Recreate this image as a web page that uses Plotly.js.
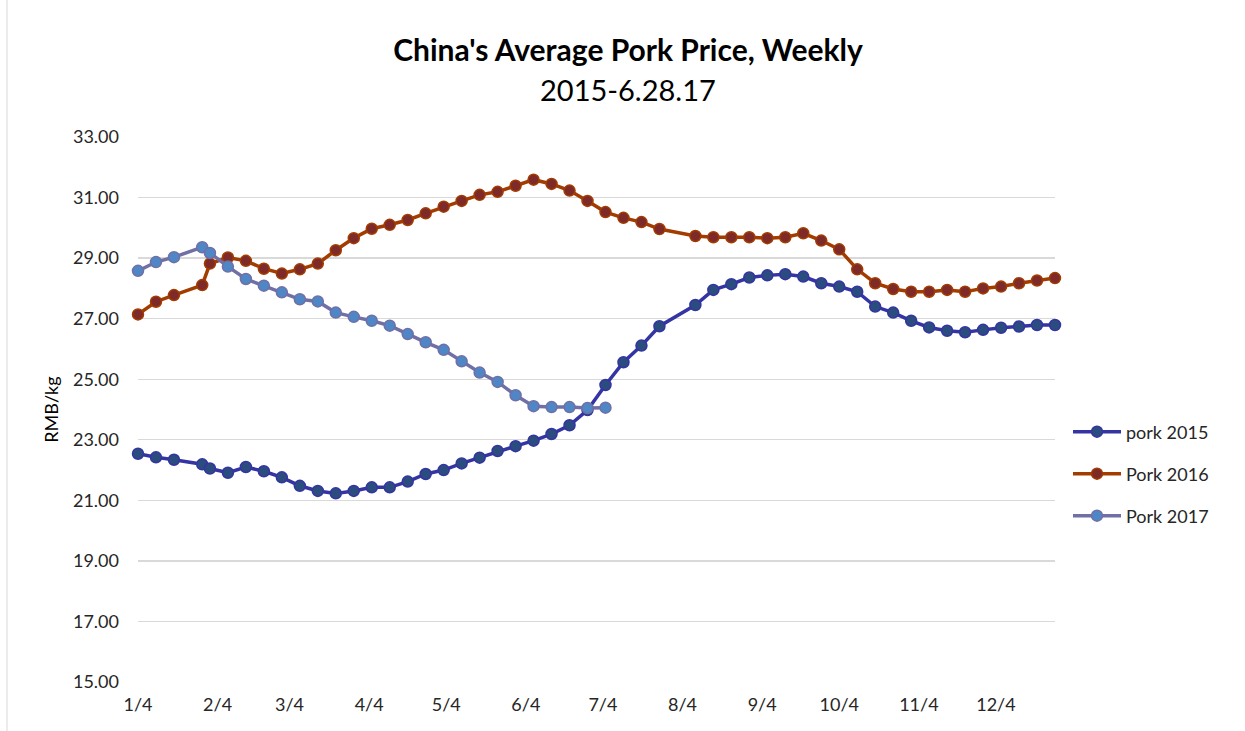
<!DOCTYPE html>
<html>
<head>
<meta charset="utf-8">
<script src="https://cdn.plot.ly/plotly-3.0.1.min.js"></script>
<style>
  html, body { margin: 0; padding: 0; background: #ffffff; }
  #chart { width: 1245px; height: 731px; }
</style>
</head>
<body>
<div id="chart"></div>
<script>
// Weekly observation dates (shared category dates of the Excel date axis)
var weekDates = [
  "2015-01-04", "2015-01-11", "2015-01-18", "2015-01-29", "2015-02-01",
  "2015-02-08", "2015-02-15", "2015-02-22", "2015-03-01", "2015-03-08",
  "2015-03-15", "2015-03-22", "2015-03-29", "2015-04-05", "2015-04-12",
  "2015-04-19", "2015-04-26", "2015-05-03", "2015-05-10", "2015-05-17",
  "2015-05-24", "2015-05-31", "2015-06-07", "2015-06-14", "2015-06-21",
  "2015-06-28", "2015-07-05", "2015-07-12", "2015-07-19", "2015-07-26",
  "2015-08-09", "2015-08-16", "2015-08-23", "2015-08-30", "2015-09-06",
  "2015-09-13", "2015-09-20", "2015-09-27", "2015-10-04", "2015-10-11",
  "2015-10-18", "2015-10-25", "2015-11-01", "2015-11-08", "2015-11-15",
  "2015-11-22", "2015-11-29", "2015-12-06", "2015-12-13", "2015-12-20",
  "2015-12-27"
];

var pork2015 = [
  22.54, 22.42, 22.34, 22.19, 22.05, 21.91, 22.10, 21.96, 21.76, 21.48,
  21.31, 21.23, 21.31, 21.43, 21.43, 21.62, 21.87, 22.00, 22.22, 22.41,
  22.63, 22.79, 22.97, 23.19, 23.48, 23.98, 24.81, 25.56, 26.11, 26.75,
  27.45, 27.95, 28.14, 28.36, 28.43, 28.47, 28.39, 28.17, 28.06, 27.89,
  27.40, 27.20, 26.93, 26.71, 26.60, 26.55, 26.63, 26.70, 26.74, 26.79,
  26.79
];

var pork2016 = [
  27.14, 27.56, 27.78, 28.11, 28.82, 29.02, 28.91, 28.65, 28.49, 28.63,
  28.82, 29.26, 29.66, 29.97, 30.10, 30.26, 30.48, 30.70, 30.89, 31.09,
  31.19, 31.39, 31.59, 31.45, 31.23, 30.89, 30.52, 30.33, 30.19, 29.96,
  29.73, 29.69, 29.69, 29.69, 29.66, 29.69, 29.82, 29.58, 29.29, 28.63,
  28.17, 27.98, 27.89, 27.89, 27.95, 27.89, 28.00, 28.06, 28.17, 28.26,
  28.34
];

var pork2017 = [
  28.58, 28.87, 29.03, 29.36, 29.17, 28.72, 28.31, 28.09, 27.87, 27.64,
  27.57, 27.20, 27.06, 26.93, 26.77, 26.49, 26.22, 25.97, 25.59, 25.22,
  24.91, 24.47, 24.11, 24.08, 24.08, 24.05, 24.06
];

var seriesNames = ["pork 2015", "Pork 2016", "Pork 2017"];

var xTickVals = [
  "2015-01-04", "2015-02-04", "2015-03-04", "2015-04-04", "2015-05-04", "2015-06-04",
  "2015-07-04", "2015-08-04", "2015-09-04", "2015-10-04", "2015-11-04", "2015-12-04"
];
var xTickText = ["1/4", "2/4", "3/4", "4/4", "5/4", "6/4", "7/4", "8/4", "9/4", "10/4", "11/4", "12/4"];

var FONT = "Lato, 'Open Sans', sans-serif";

function mkTrace(y, name, lineColor, fillColor, legendId) {
  return {
    x: weekDates.slice(0, y.length),
    y: y,
    name: name,
    type: "scatter",
    mode: "lines+markers",
    cliponaxis: false,
    line: { color: lineColor, width: 3.5 },
    marker: { size: 11, color: fillColor, line: { color: lineColor, width: 1.5 } },
    legend: legendId
  };
}

var traces = [
  mkTrace(pork2015, seriesNames[0], "#3434A2", "#2B4C7E", "legend"),
  mkTrace(pork2016, seriesNames[1], "#A33C00", "#7D2A28", "legend2"),
  mkTrace(pork2017, seriesNames[2], "#7070A6", "#4F86C6", "legend3")
];

// plot area: x 138..1055, y 137..682
var L = 138, R = 1245 - 1055, T = 137, B = 731 - 682;
var plotH = 682 - 137;
function py(pix) { return (682 - pix) / plotH; }

function legendAt(ypix) {
  return {
    x: (1068 - 138) / 917, xanchor: "left",
    y: py(ypix), yanchor: "middle",
    font: { family: FONT, size: 18, color: "#262626" },
    bgcolor: "rgba(0,0,0,0)",
    itemwidth: 48
  };
}

var layout = {
  width: 1245,
  height: 731,
  margin: { l: L, r: R, t: T, b: B, pad: 0 },
  paper_bgcolor: "#ffffff",
  plot_bgcolor: "#ffffff",
  showlegend: true,
  title: {
    text: "<b>China's Average Pork Price, Weekly</b>",
    x: 628 / 1245, xanchor: "center", xref: "container",
    y: 1 - 50 / 731, yanchor: "middle", yref: "container",
    font: { family: FONT, size: 30, color: "#000000" }
  },
  annotations: [{
    text: "2015-6.28.17",
    xref: "paper", yref: "paper",
    x: (628 - 138) / 917, y: py(90),
    xanchor: "center", yanchor: "middle",
    showarrow: false,
    font: { family: FONT, size: 29, color: "#000000" }
  }],
  xaxis: {
    type: "date",
    range: ["2015-01-04", "2015-12-27"],
    tickvals: xTickVals,
    ticktext: xTickText,
    showgrid: false,
    zeroline: false,
    showline: false,
    ticks: "",
    ticklabelstandoff: 10,
    tickfont: { family: FONT, size: 18, color: "#262626" },
    fixedrange: true
  },
  yaxis: {
    range: [15, 33],
    dtick: 2,
    tick0: 15,
    tickformat: ".2f",
    showgrid: true,
    gridcolor: "#d9d9d9",
    gridwidth: 1.3,
    zeroline: false,
    showline: false,
    ticks: "",
    ticklabelstandoff: 18,
    tickfont: { family: FONT, size: 18, color: "#262626" },
    title: { text: "RMB/kg", font: { family: FONT, size: 18, color: "#000000" }, standoff: 9 },
    automargin: false,
    fixedrange: true
  },
  legend: legendAt(432),
  legend2: legendAt(474),
  legend3: legendAt(516),
  shapes: [{
    type: "line", xref: "paper", yref: "paper",
    x0: (7 - 138) / 917, x1: (7 - 138) / 917,
    y0: py(0), y1: py(731),
    line: { color: "#d9d9d9", width: 1 }
  }]
};

Plotly.newPlot("chart", traces, layout, { displayModeBar: false, staticPlot: true });
</script>
</body>
</html>
